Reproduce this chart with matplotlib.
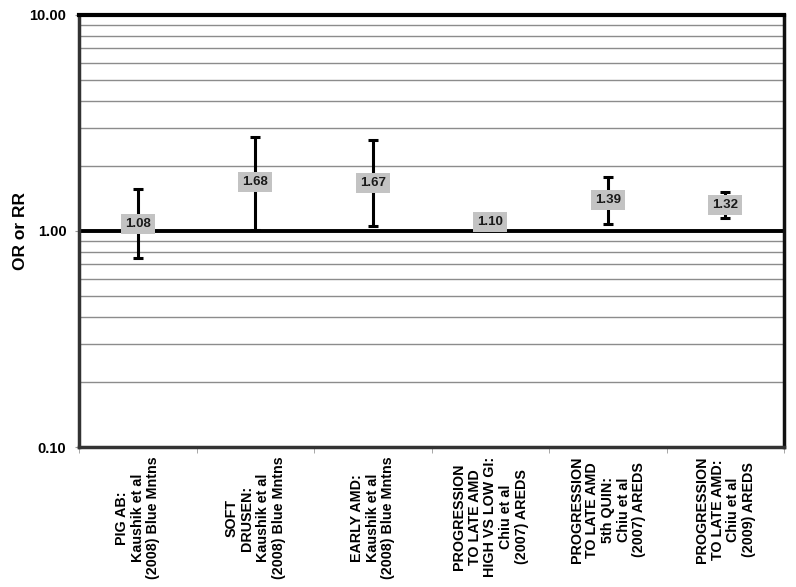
import numpy as np
import matplotlib
matplotlib.use('Agg')
from matplotlib import pyplot as plt
from matplotlib.ticker import FixedLocator, NullFormatter

plt.rcParams['font.family'] = ['Liberation Sans', 'DejaVu Sans']

# data
categories = [
    "PIG AB:\nKaushik et al\n(2008) Blue Mntns",
    "SOFT\nDRUSEN:\nKaushik et al\n(2008) Blue Mntns",
    "EARLY AMD:\nKaushik et al\n(2008) Blue Mntns",
    "PROGRESSION\nTO LATE AMD\nHIGH VS LOW GI:\nChiu et al\n(2007) AREDS",
    "PROGRESSION\nTO LATE AMD\n5th QUIN:\nChiu et al\n(2007) AREDS",
    "PROGRESSION\nTO LATE AMD:\nChiu et al\n(2009) AREDS",
]
estimate = [1.08, 1.68, 1.67, 1.10, 1.39, 1.32]
lower = [0.75, 1.01, 1.05, 1.01, 1.08, 1.15]
upper = [1.56, 2.72, 2.64, 1.20, 1.78, 1.51]

fig = plt.figure(figsize=(7.96, 5.87), dpi=100)
ax = fig.add_axes([0.0992, 0.2385, 0.886, 0.736])

x = np.arange(len(categories))
est = np.array(estimate)
yerr = [est - np.array(lower), np.array(upper) - est]

# gridlines at 0.2..0.9 and 2..9
minor = [m * 10.0 ** d for d in (-1, 0) for m in range(2, 10)]
for v in minor:
    ax.axhline(v, color='#8c8c8c', lw=1.0, zorder=1)
ax.axhline(1.0, color='black', lw=2.8, zorder=2)

ax.errorbar(x, est, yerr=yerr, fmt='none', ecolor='black', elinewidth=2.2,
            capsize=3.5, capthick=2.2, zorder=3)

for xi, v in zip(x, est):
    ax.text(xi, v, "%.2f" % v, ha='center', va='center', fontsize=9.5,
            fontweight='bold', color='#1a1a1a', zorder=4,
            bbox=dict(boxstyle='square,pad=0.3', fc='#c3c3c3', ec='none'))

ax.set_yscale('log')
ax.set_ylim(0.1, 10)
ax.set_xlim(-0.5, len(categories) - 0.5)
ax.set_yticks([0.1, 1, 10])
ax.set_yticklabels(['0.10', '1.00', '10.00'], fontweight='bold', fontsize=10.5)
ax.yaxis.set_minor_locator(FixedLocator([]))
ax.yaxis.set_minor_formatter(NullFormatter())
ax.set_ylabel('OR or RR', fontweight='bold', fontsize=12.5)
ax.yaxis.set_label_coords(-0.072, 0.5)

ax.set_xticks(x)
ax.set_xticklabels(categories, rotation=90, fontweight='bold', fontsize=10.3,
                   linespacing=1.15, va='top', ha='center', multialignment='center')
ax.tick_params(axis='x', length=0, pad=7)
ax.xaxis.set_minor_locator(FixedLocator(np.arange(len(categories) + 1) - 0.5))
ax.tick_params(axis='x', which='minor', length=4, color='#999999')
ax.tick_params(axis='y', length=3, color='#999999', pad=6)

ax.spines['top'].set_linewidth(3.0)
ax.spines['top'].set_color('black')
ax.spines['bottom'].set_linewidth(2.5)
ax.spines['bottom'].set_color('#333333')
ax.spines['left'].set_linewidth(2.5)
ax.spines['left'].set_color('#333333')
ax.spines['right'].set_linewidth(2.5)
ax.spines['right'].set_color('#111111')

fig.savefig('out.png', dpi=100)
